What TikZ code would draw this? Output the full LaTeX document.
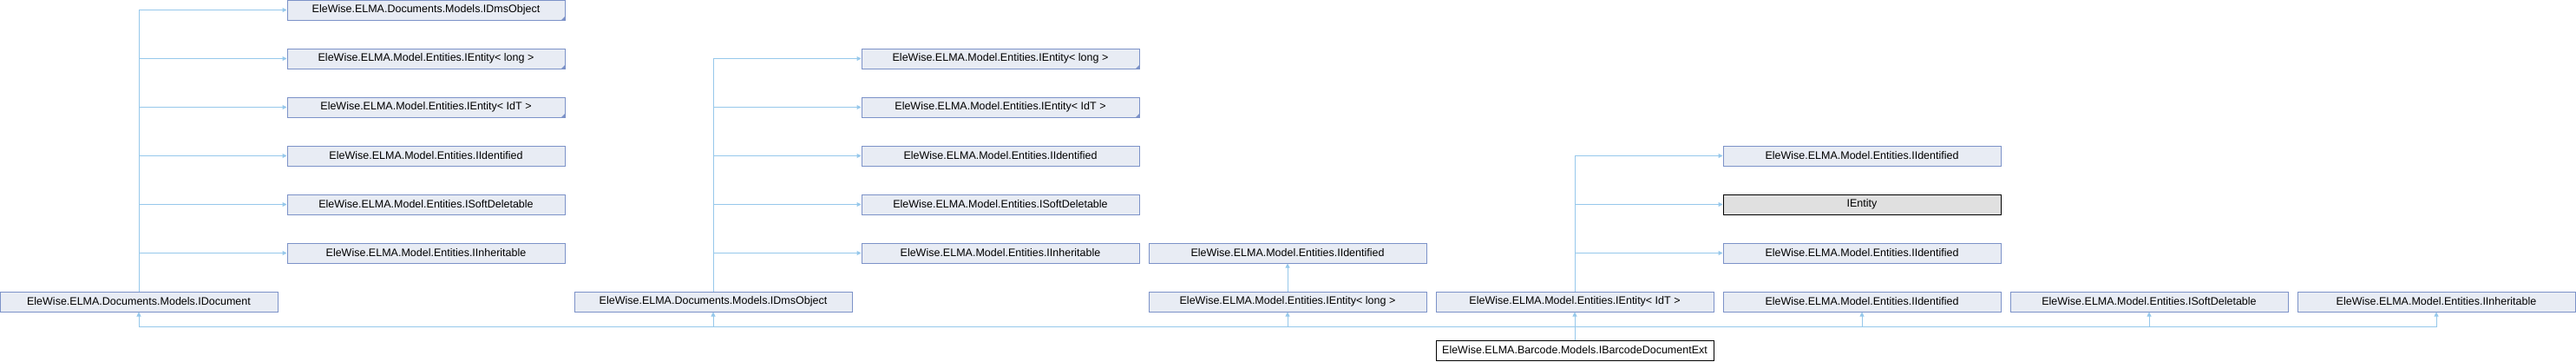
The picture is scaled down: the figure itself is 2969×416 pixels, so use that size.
\documentclass[tikz,border=0pt]{standalone}
\usepackage{fontspec}
\setmainfont{Liberation Sans}
\usepackage{xcolor}
\usepackage{tikz}
\usetikzlibrary{arrows.meta, positioning, calc}

\definecolor{edgeblue}{RGB}{150,200,235}
\definecolor{boxfill}{RGB}{232,236,244}
\definecolor{boxline}{RGB}{124,146,200}
\definecolor{focusfill}{RGB}{224,224,224}

\begin{document}
\begin{tikzpicture}[
  x=1pt, y=-1pt,
  cls/.style={draw=boxline, fill=boxfill, line width=1pt, minimum width=320pt, minimum height=23pt,
    inner sep=0pt, font=\fontsize{12.5pt}{15pt}\selectfont},
  trunc/.style={cls, path picture={\fill[boxline] (path picture bounding box.south east)
    -- ++(-4pt,0pt) -- ++(4pt,4pt) -- cycle;}},
  focus/.style={cls, draw=black, fill=focusfill},
  self/.style={cls, draw=black, fill=white},
  edge/.style={draw=edgeblue, line width=1pt, -{Triangle[length=5pt, width=5pt]}},
]
  \useasboundingbox (0,0) rectangle (2969,416);

  % bottom row of bases
  \node[cls] (document) at (160,347.5) {EleWise.ELMA.Documents.Models.IDocument};
  \node[cls] (dmsobj)   at (822,347.5) {EleWise.ELMA.Documents.Models.IDmsObject};
  \node[cls] (entlong)  at (1484,347.5) {EleWise.ELMA.Model.Entities.IEntity< long >};
  \node[cls] (entidt)   at (1815,347.5) {EleWise.ELMA.Model.Entities.IEntity< IdT >};
  \node[cls] (ident)    at (2146,347.5) {EleWise.ELMA.Model.Entities.IIdentified};
  \node[cls] (softdel)  at (2477,347.5) {EleWise.ELMA.Model.Entities.ISoftDeletable};
  \node[cls] (inherit)  at (2808,347.5) {EleWise.ELMA.Model.Entities.IInheritable};
  \node[self] (ext)     at (1815,403.5) {EleWise.ELMA.Barcode.Models.IBarcodeDocumentExt};

  % bases of IDocument
  \node[trunc] (docdms)     at (491,11.5)  {EleWise.ELMA.Documents.Models.IDmsObject};
  \node[trunc] (docentlong) at (491,67.5)  {EleWise.ELMA.Model.Entities.IEntity< long >};
  \node[trunc] (docentidt)  at (491,123.5) {EleWise.ELMA.Model.Entities.IEntity< IdT >};
  \node[cls] (docident)     at (491,179.5) {EleWise.ELMA.Model.Entities.IIdentified};
  \node[cls] (docsoftdel)   at (491,235.5) {EleWise.ELMA.Model.Entities.ISoftDeletable};
  \node[cls] (docinherit)   at (491,291.5) {EleWise.ELMA.Model.Entities.IInheritable};

  % bases of IDmsObject
  \node[trunc] (dmsentlong) at (1153,67.5)  {EleWise.ELMA.Model.Entities.IEntity< long >};
  \node[trunc] (dmsentidt)  at (1153,123.5) {EleWise.ELMA.Model.Entities.IEntity< IdT >};
  \node[cls] (dmsident)     at (1153,179.5) {EleWise.ELMA.Model.Entities.IIdentified};
  \node[cls] (dmssoftdel)   at (1153,235.5) {EleWise.ELMA.Model.Entities.ISoftDeletable};
  \node[cls] (dmsinherit)   at (1153,291.5) {EleWise.ELMA.Model.Entities.IInheritable};

  % bases of the two IEntity nodes
  \node[cls] (longident)  at (1484,291.5) {EleWise.ELMA.Model.Entities.IIdentified};
  \node[cls] (idtident)   at (2146,179.5) {EleWise.ELMA.Model.Entities.IIdentified};
  \node[focus] (idtentity) at (2146,235.5) {IEntity};
  \node[cls] (idtident2)  at (2146,291.5) {EleWise.ELMA.Model.Entities.IIdentified};

  \draw[edge] (document.north) |- (docdms.west);
  \draw[edge] (document.north) |- (docentlong.west);
  \draw[edge] (document.north) |- (docentidt.west);
  \draw[edge] (document.north) |- (docident.west);
  \draw[edge] (document.north) |- (docsoftdel.west);
  \draw[edge] (document.north) |- (docinherit.west);

  \draw[edge] (dmsobj.north) |- (dmsentlong.west);
  \draw[edge] (dmsobj.north) |- (dmsentidt.west);
  \draw[edge] (dmsobj.north) |- (dmsident.west);
  \draw[edge] (dmsobj.north) |- (dmssoftdel.west);
  \draw[edge] (dmsobj.north) |- (dmsinherit.west);

  \draw[edge] (entlong) -- (longident);

  \draw[edge] (entidt.north) |- (idtident.west);
  \draw[edge] (entidt.north) |- (idtentity.west);
  \draw[edge] (entidt.north) |- (idtident2.west);

  % edges out of IBarcodeDocumentExt
  \coordinate (bus) at (1815,376);
  \draw[edge] (ext.north) -- (bus) -| (document.south);
  \draw[edge] (ext.north) -- (bus) -| (dmsobj.south);
  \draw[edge] (ext.north) -- (bus) -| (entlong.south);
  \draw[edge] (ext) -- (entidt);
  \draw[edge] (ext.north) -- (bus) -| (ident.south);
  \draw[edge] (ext.north) -- (bus) -| (softdel.south);
  \draw[edge] (ext.north) -- (bus) -| (inherit.south);
\end{tikzpicture}
\end{document}
